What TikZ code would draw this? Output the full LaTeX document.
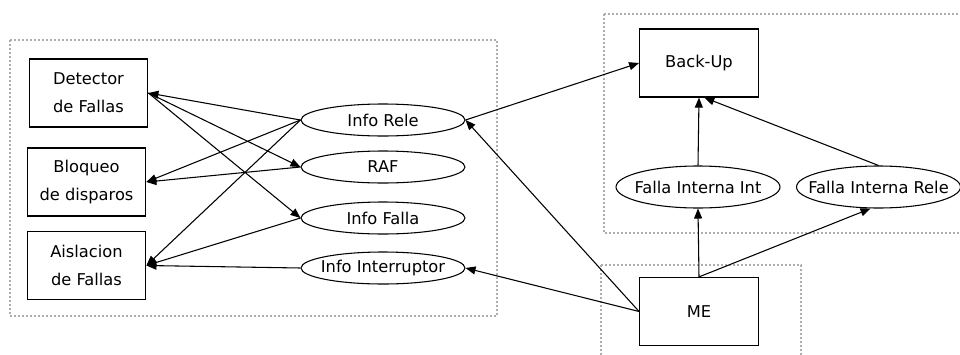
\documentclass[tikz,border=0pt]{standalone}
\usepackage{fontspec}
\setmainfont{DejaVu Sans}
\usetikzlibrary{shapes.geometric,arrows.meta}
\begin{document}
\begin{tikzpicture}[x=0.75pt,y=-0.75pt,
  font=\fontsize{12.2pt}{21pt}\selectfont,
  boxnode/.style={draw,line width=0.9pt,minimum width=89pt,minimum height=51pt,inner sep=0pt,align=center},
  ellnode/.style={draw,ellipse,line width=0.8pt,minimum width=123pt,minimum height=24pt,inner sep=0pt,label={center:#1}},
  cluster/.style={draw=black!32,line width=1.1pt,dash pattern=on 1.5pt off 1.5pt},
  edge/.style={line width=0.8pt,-{Triangle[length=7.5pt,width=6pt]}}]
\useasboundingbox (0,0) rectangle (960,354);
\clip (0,0) rectangle (960,354);
\fill[white] (0,0) rectangle (960,354);
% clusters
\draw[cluster] (10,40) rectangle (497,316);
\draw[cluster] (604,14) rectangle (970,233);
\draw[cluster] (601,265) rectangle (801,370);
% boxes
\node[boxnode] (det) at (88.5,93) {Detector\\de Fallas};
\node[boxnode] (blo) at (86.5,182) {Bloqueo\\de disparos};
\node[boxnode] (ais) at (86.5,265.5) {Aislacion\\de Fallas};
\node[boxnode] (bak) at (699,63) {Back-Up};
\node[boxnode] (me) at (699,311.5) {ME};
% ellipses
\node[ellnode={Info Rele}] (irl) at (383,120) {};
\node[ellnode={RAF}] (raf) at (383,167) {};
\node[ellnode={Info Falla}] (ifa) at (383,218) {};
\node[ellnode={Info Interruptor}] (iin) at (383,268) {};
\node[ellnode={Falla Interna Int},minimum height=31.5pt] (fii) at (698,187) {};
\node[ellnode={Falla Interna Rele},minimum height=31.5pt] (fir) at (878.5,187) {};
% edges
\draw[edge] (det.east) -- (raf.west);
\draw[edge] (det.east) -- (ifa.west);
\draw[edge] (irl.west) -- (det.east);
\draw[edge] (irl.west) -- (blo.east);
\draw[edge] (irl.west) -- (ais.east);
\draw[edge] (raf.west) -- (blo.east);
\draw[edge] (ifa.west) -- (ais.east);
\draw[edge] (iin.west) -- (ais.east);
\draw[edge] (irl.east) -- (bak.west);
\draw[edge] (me.west) -- (irl.east);
\draw[edge] (me.west) -- (iin.east);
\draw[edge] (me.north) -- (fii.south);
\draw[edge] (me.north) -- ([xshift=-6pt]fir.south);
\draw[edge] (fii.north) -- (bak.south);
\draw[edge] (fir.north) -- ([xshift=4pt]bak.south);
\end{tikzpicture}
\end{document}
